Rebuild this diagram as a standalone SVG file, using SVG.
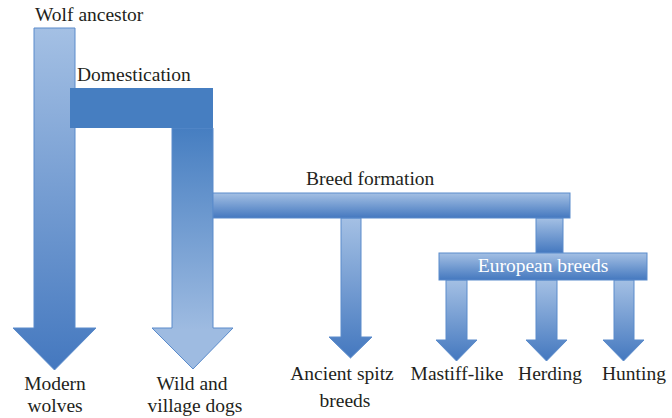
<svg xmlns="http://www.w3.org/2000/svg" width="672" height="418" viewBox="0 0 672 418">
<defs>
<linearGradient id="lightToDark" x1="0" y1="0" x2="0" y2="1">
<stop offset="0" stop-color="#a4c0e4"/>
<stop offset="1" stop-color="#4478bf"/>
</linearGradient>
<linearGradient id="dogGrad" gradientUnits="userSpaceOnUse" x1="0" y1="128" x2="0" y2="330">
<stop offset="0" stop-color="#467ec1"/>
<stop offset="1" stop-color="#9ebbe1"/>
</linearGradient>
<style>
.lbl{font-family:"Liberation Serif","DejaVu Serif","Times New Roman",serif;font-size:19.5px;fill:#231f20}
.c{text-anchor:middle}
.shape{stroke:#5a8bcb;stroke-width:1}
</style>
</defs>
<rect width="672" height="418" fill="#ffffff"/>
<g id="connectors">
<polygon class="shape" fill="url(#lightToDark)" points="34,28 75,28 75,328 96,328 54.5,370 13,328 34,328"/>
<polygon class="shape" fill="url(#dogGrad)" points="172,128 213,128 213,328 233,328 193,369 152,328 172,328"/>
<polygon class="shape" fill="url(#lightToDark)" points="341,218 361,218 361,337 372,337 350.5,358 329,337 341,337"/>
<rect class="shape" fill="url(#lightToDark)" x="536" y="218" width="27" height="35"/>
<polygon class="shape" fill="url(#lightToDark)" points="446,280 467,280 467,340 477,340 456.5,361 436,340 446,340"/>
<polygon class="shape" fill="url(#lightToDark)" points="536,280 557,280 557,340 567,340 546.5,361 526,340 536,340"/>
<polygon class="shape" fill="url(#lightToDark)" points="614,280 634,280 634,340 644,340 623.5,361 603,340 614,340"/>
</g>
<g id="wolf-ancestor">
<text class="lbl" x="35" y="21">Wolf ancestor</text>
</g>
<g id="domestication">
<rect x="70" y="88" width="143" height="40" fill="#467ec1"/>
<text class="lbl" x="77" y="81">Domestication</text>
</g>
<g id="breed-formation">
<rect class="shape" fill="url(#lightToDark)" x="213" y="193" width="357" height="25"/>
<text class="lbl" x="306" y="185">Breed formation</text>
</g>
<g id="european-breeds">
<rect class="shape" fill="url(#lightToDark)" x="439" y="253" width="208" height="27"/>
<text class="lbl c" x="543" y="272" style="fill:#ffffff">European breeds</text>
</g>
<g id="modern-wolves">
<text class="lbl c" x="55" y="390">Modern</text>
<text class="lbl c" x="55" y="412">wolves</text>
</g>
<g id="wild-village-dogs">
<text class="lbl c" x="192" y="390">Wild and</text>
<text class="lbl c" x="195" y="412">village dogs</text>
</g>
<g id="ancient-spitz">
<text class="lbl c" x="342" y="380">Ancient spitz</text>
<text class="lbl c" x="345" y="407">breeds</text>
</g>
<g id="mastiff-like">
<text class="lbl c" x="457" y="380">Mastiff-like</text>
</g>
<g id="herding">
<text class="lbl c" x="550" y="380">Herding</text>
</g>
<g id="hunting">
<text class="lbl c" x="634" y="380">Hunting</text>
</g>
</svg>
